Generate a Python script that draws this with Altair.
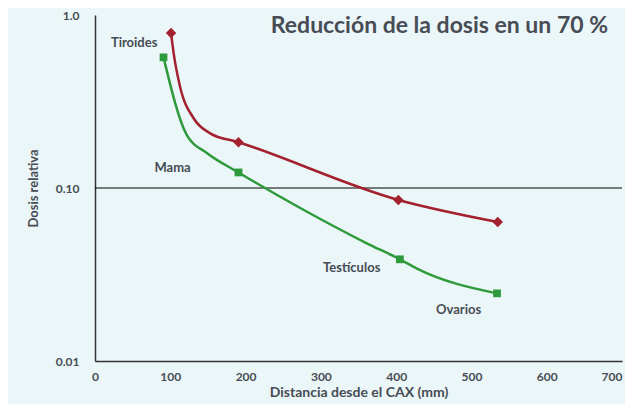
import altair as alt
import pandas as pd

# Tiroides (red) curve
red_x = [101, 104.5, 113, 131, 153, 190.6, 403, 535]
red_y = [0.787, 0.60, 0.385, 0.253, 0.207, 0.184, 0.0853, 0.0636]
red_mx = [101, 190.6, 403, 535]
red_my = [0.787, 0.184, 0.0853, 0.0636]

# Mama (green) curve
green_x = [91, 122, 149, 190.6, 272.6, 361, 405, 427, 534]
green_y = [0.569, 0.202, 0.159, 0.123, 0.0766, 0.0479, 0.0387, 0.0343, 0.0246]
green_mx = [91, 190.6, 405, 534]
green_my = [0.569, 0.123, 0.0387, 0.0246]

# annotation labels
label_text = ["Tiroides", "Mama", "Testículos", "Ovarios"]
label_x = [52, 103, 341, 483]
label_y = [0.69, 0.131, 0.0343, 0.0197]

y_tick_vals = [0.01, 0.1, 1.0]
y_tick_labels = ["0.01", "0.10", "1.0"]
x_tick_vals = [0, 100, 200, 300, 400, 500, 600, 700]

ref_value = [0.1]

title_text = "Reducción de la dosis en un 70 %"
x_title = "Distancia desde el CAX (mm)"
y_title = "Dosis relativa"

RED = "#a3202e"
GREEN = "#2e9a3b"
TXT = "#474c55"
FONT = "Lato"

curve_df = pd.DataFrame(
    {"x": red_x + green_x,
     "y": red_y + green_y,
     "s": ["Tiroides"] * len(red_x) + ["Mama"] * len(green_x)}
)
red_m = pd.DataFrame({"x": red_mx, "y": red_my})
green_m = pd.DataFrame({"x": green_mx, "y": green_my})
lab_df = pd.DataFrame({"t": label_text, "x": label_x, "y": label_y})
ref_df = pd.DataFrame({"y": ref_value})

label_expr = " : ".join(
    f"datum.value == {v} ? '{l}'" for v, l in zip(y_tick_vals, y_tick_labels)
) + " : ''"

xs = alt.Scale(domain=[0, 700], nice=False)
ys = alt.Scale(type="log", domain=[0.01, 1.0], nice=False)

last_x = x_tick_vals[-1]

xenc = alt.X("x:Q", scale=xs, axis=alt.Axis(
    values=x_tick_vals, title=x_title, grid=False, ticks=False,
    labelPadding=10, titlePadding=3, labelFontSize=12, labelFontWeight="bold",
    labelColor=TXT, titleColor=TXT, titleFontSize=14, titleFontWeight="bold",
    labelFont=FONT, titleFont=FONT, domainColor="#333333", domainWidth=1.5,
    labelFlush=False,
    labelAlign={"condition": {"test": f"datum.value == {last_x}", "value": "right"},
                "value": "center"}))
yenc = alt.Y("y:Q", scale=ys, axis=alt.Axis(
    values=y_tick_vals, labelExpr=label_expr, title=y_title, grid=False,
    ticks=False, labelPadding=16, titlePadding=15, labelFontSize=12,
    labelFontWeight="bold", labelColor=TXT, titleColor=TXT, titleFontSize=13,
    titleFontWeight="bold", labelFont=FONT, titleFont=FONT,
    domainColor="#333333", domainWidth=1.5))

rule = alt.Chart(ref_df).mark_rule(color="black", strokeWidth=1).encode(
    y=alt.Y("y:Q", scale=ys))

lines = alt.Chart(curve_df).mark_line(strokeWidth=2.5, interpolate="monotone").encode(
    x=xenc, y=yenc,
    color=alt.Color("s:N", scale=alt.Scale(domain=["Tiroides", "Mama"],
                                           range=[RED, GREEN]), legend=None),
    detail="s:N")

rm = alt.Chart(red_m).mark_point(shape="diamond", filled=True, color=RED,
                                 size=110, opacity=1).encode(
    x=alt.X("x:Q", scale=xs), y=alt.Y("y:Q", scale=ys))
gm = alt.Chart(green_m).mark_point(shape="square", filled=True, color=GREEN,
                                   size=60, opacity=1).encode(
    x=alt.X("x:Q", scale=xs), y=alt.Y("y:Q", scale=ys))

labels = alt.Chart(lab_df).mark_text(font=FONT, fontWeight="bold", fontSize=13,
                                     color=TXT).encode(
    x=alt.X("x:Q", scale=xs), y=alt.Y("y:Q", scale=ys), text="t:N")

chart = alt.layer(rule, lines, rm, gm, labels).properties(
    width=527, height=346,
    autosize=alt.AutoSizeParams(type="none"),
    padding={"left": 87, "top": 7, "right": 3, "bottom": 43},
    title=alt.TitleParams(text=title_text, anchor="end", frame="group",
                          fontSize=23, font=FONT, fontWeight="bold",
                          color=TXT, offset=0, dy=29, dx=-14),
    background="#ebf6f8",
).configure_view(stroke=None)

chart.save("out.html", embed_options={"renderer": "svg", "actions": False})
